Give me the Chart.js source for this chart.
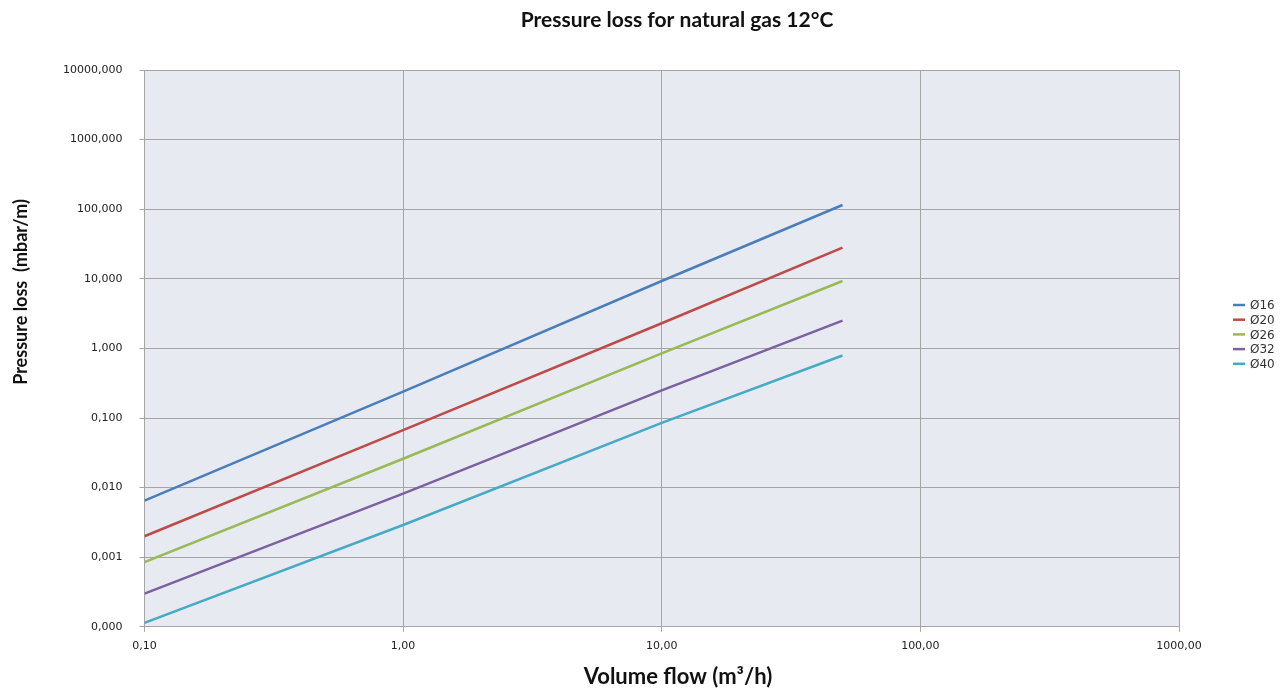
<!DOCTYPE html>
<html>
<head>
<meta charset="utf-8">
<script src="https://cdn.jsdelivr.net/npm/chart.js@4/dist/chart.umd.min.js"></script>
<style>
  html, body { margin: 0; padding: 0; background: #fff; }
  #wrap { width: 1283px; height: 688px; }
</style>
</head>
<body>
<div id="wrap"><canvas id="lossChart"></canvas></div>
<script>
// volume flow points (m3/h)
const flow = [0.1, 1, 10, 50];

// pressure loss (mbar/m) per pipe diameter
const d16 = [0.0065, 0.24, 9.3, 115];
const d20 = [0.0020, 0.067, 2.3, 28];
const d26 = [0.00085, 0.026, 0.85, 9.3];
const d32 = [0.0003, 0.0082, 0.25, 2.5];
const d40 = [0.000114, 0.0029, 0.085, 0.79];

const seriesNames = ['Ø16', 'Ø20', 'Ø26', 'Ø32', 'Ø40'];
const seriesColors = ['#4A7EBB', '#BE4B48', '#98B954', '#7D60A0', '#46AAC5'];

const xTicks = [0.1, 1, 10, 100, 1000];
const yTicks = [0.0001, 0.001, 0.01, 0.1, 1, 10, 100, 1000, 10000];

const chartTitle = 'Pressure loss for natural gas 12°C';
const xTitle = 'Volume flow (m³/h)';
const yTitle = 'Pressure loss  (mbar/m)';

function toPoints(ys) {
    return flow.map(function(x, i) { return { x: x, y: ys[i] }; });
}

function comma(v, digits) {
    return Number(v).toFixed(digits).replace('.', ',');
}

// grey-blue fill behind the plot area
const plotBg = {
    id: 'plotBg',
    beforeDraw: function(chart) {
        const a = chart.chartArea;
        const ctx = chart.ctx;
        ctx.save();
        ctx.fillStyle = '#E7EAF1';
        ctx.fillRect(a.left, a.top, a.right - a.left, a.bottom - a.top);
        ctx.restore();
    }
};

// titles and legend drawn by hand so they sit where Excel put them
const extras = {
    id: 'extras',
    afterDraw: function(chart) {
        const ctx = chart.ctx;
        ctx.save();
        ctx.fillStyle = '#111';
        ctx.textAlign = 'center';
        ctx.textBaseline = 'middle';
        ctx.font = 'bold 21px Lato';
        ctx.fillText(chartTitle, 677, 20);

        ctx.font = 'bold 22px Lato';
        ctx.fillText(xTitle, 678, 677);

        ctx.save();
        ctx.translate(21, 292);
        ctx.rotate(-Math.PI / 2);
        ctx.font = 'bold 18px Lato';
        ctx.fillText(yTitle, 0, 0);
        ctx.restore();

        ctx.font = '12px "DejaVu Sans"';
        ctx.textAlign = 'left';
        chart.data.datasets.forEach(function(ds, i) {
            const y = 305 + i * 14.7;
            ctx.strokeStyle = ds.borderColor;
            ctx.lineWidth = 2.5;
            ctx.beginPath();
            ctx.moveTo(1233, y);
            ctx.lineTo(1245, y);
            ctx.stroke();
            ctx.fillStyle = '#333';
            ctx.fillText(ds.label, 1250, y + 1);
        });
        ctx.restore();
    }
};

const allSeries = [d16, d20, d26, d32, d40];

new Chart(document.getElementById('lossChart'), {
    type: 'line',
    data: {
        datasets: allSeries.map(function(ys, i) {
            return {
                label: seriesNames[i],
                data: toPoints(ys),
                borderColor: seriesColors[i],
                backgroundColor: seriesColors[i],
                borderWidth: 2.5,
                pointRadius: 0,
                tension: 0
            };
        })
    },
    options: {
        responsive: true,
        maintainAspectRatio: false,
        animation: false,
        layout: { padding: { left: 46, right: 104, top: 70, bottom: 27 } },
        scales: {
            x: {
                type: 'logarithmic',
                min: 0.1,
                max: 1000,
                afterBuildTicks: function(scale) {
                    scale.ticks = xTicks.map(function(v) { return { value: v }; });
                },
                ticks: {
                    autoSkip: false,
                    maxRotation: 0,
                    padding: 8,
                    color: '#222',
                    font: { family: 'DejaVu Sans', size: 11 },
                    callback: function(v) { return comma(v, 2); }
                },
                grid: { color: '#A5A5A5', lineWidth: 1, tickLength: 5 },
                border: { color: '#A5A5A5' }
            },
            y: {
                type: 'logarithmic',
                min: 0.0001,
                max: 10000,
                afterBuildTicks: function(scale) {
                    scale.ticks = yTicks.map(function(v) { return { value: v }; });
                },
                ticks: {
                    autoSkip: false,
                    padding: 17,
                    color: '#222',
                    font: { family: 'DejaVu Sans', size: 11 },
                    callback: function(v) { return comma(v, 3); }
                },
                grid: { color: '#A5A5A5', lineWidth: 1, tickLength: 5 },
                border: { color: '#A5A5A5' }
            }
        },
        plugins: {
            title: { display: false },
            legend: { display: false },
            tooltip: { enabled: false }
        }
    },
    plugins: [plotBg, extras]
});
</script>
</body>
</html>
